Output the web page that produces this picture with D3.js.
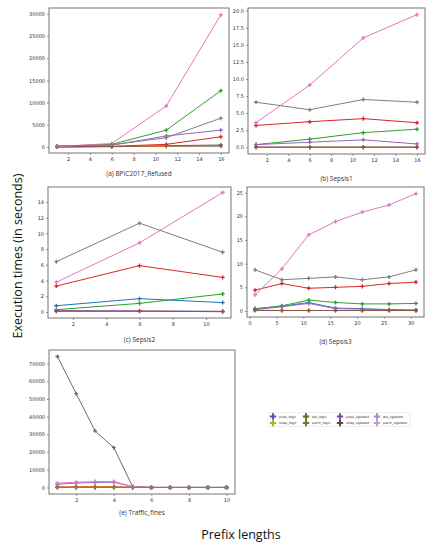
<!DOCTYPE html>
<html><head><meta charset="utf-8">
<script src="https://cdn.jsdelivr.net/npm/d3@7"></script>
<style>
html,body{margin:0;padding:0;background:#fff;}
svg{display:block;}
</style></head>
<body>
<svg id="chart" width="432" height="550"></svg>
<script>
// ---- data ----
const seriesNames = ["pred_logit","shap_logit","ale_logit","perm_logit","pred_xgboost","shap_xgboost","ale_xgboost","perm_xgboost"];

const bpicX = [1, 6, 11, 16];
const bpicValues = [
  [50, 100, 150, 200],
  [30, 80, 150, 300],
  [150, 600, 3800, 12700],
  [40, 150, 600, 2300],
  [200, 400, 2500, 3800],
  [20, 100, 300, 450],
  [100, 800, 9250, 29800],
  [250, 500, 2100, 6500]
];

const sepsis1X = [1, 6, 11, 16];
const sepsis1Values = [
  [0.02, 0.02, 0.02, 0.02],
  [0.02, 0.02, 0.02, 0.02],
  [0.4, 1.2, 2.15, 2.65],
  [3.2, 3.75, 4.2, 3.6],
  [0.4, 0.75, 1.1, 0.5],
  [0.03, 0.03, 0.03, 0.03],
  [3.6, 9.1, 16.0, 19.4],
  [6.6, 5.5, 7.0, 6.6]
];

const sepsis2X = [1, 6, 11];
const sepsis2Values = [
  [0.8, 1.7, 1.2],
  [0.1, 0.1, 0.05],
  [0.3, 1.1, 2.3],
  [3.3, 5.9, 4.4],
  [0.2, 0.15, 0.1],
  [0.1, 0.1, 0.05],
  [3.8, 8.8, 15.2],
  [6.4, 11.3, 7.6]
];

const sepsis3X = [1, 6, 11, 16, 21, 26, 31];
const sepsis3Values = [
  [0.5, 1.0, 1.8, 0.6, 0.5, 0.3, 0.2],
  [0.2, 0.1, 0.1, 0.1, 0.1, 0.1, 0.1],
  [0.4, 1.1, 2.3, 1.8, 1.5, 1.5, 1.6],
  [4.4, 5.8, 4.8, 5.0, 5.2, 5.8, 6.1],
  [0.3, 0.9, 1.6, 0.5, 0.4, 0.2, 0.1],
  [0.1, 0.1, 0.1, 0.1, 0.1, 0.1, 0.1],
  [3.4, 8.9, 16.1, 18.9, 20.9, 22.4, 24.8],
  [8.7, 6.6, 6.9, 7.2, 6.6, 7.2, 8.7]
];

const trafficX = [1, 2, 3, 4, 5, 6, 7, 8, 9, 10];
const trafficValues = [
  [100, 100, 100, 100, 50, 0, 0, 0, 0, 0],
  [300, 400, 500, 500, 100, 0, 0, 0, 0, 0],
  [50, 50, 50, 50, 20, 0, 0, 0, 0, 0],
  [80, 80, 80, 80, 30, 0, 0, 0, 0, 0],
  [1800, 2500, 2800, 3000, 400, 0, 0, 0, 0, 0],
  [74000, 53000, 32000, 22500, 500, 0, 0, 0, 0, 0],
  [2400, 3000, 3300, 3400, 500, 0, 0, 0, 0, 0],
  [0, 0, 0, 0, 0, 0, 0, 0, 0, 0]
];

const captions = ["(a) BPIC2017_Refused", "(b) Sepsis1", "(c) Sepsis2", "(d) Sepsis3", "(e) Traffic_fines"];

const ticksA_x = [2,4,6,8,10,12,14,16];
const ticksA_y = [0,5000,10000,15000,20000,25000,30000];
const ticksB_y = [0,2.5,5,7.5,10,12.5,15,17.5,20];
const ticksC_x = [2,4,6,8,10];
const ticksC_y = [0,2,4,6,8,10,12,14];
const ticksD_x = [0,5,10,15,20,25,30];
const ticksD_y = [0,5,10,15,20,25];
const ticksE_x = [2,4,6,8,10];
const ticksE_y = [0,10000,20000,30000,40000,50000,60000,70000];

// ---- styles ----
const lineColors = ["#1f77b4","#ff7f0e","#2ca02c","#d62728","#9467bd","#8c564b","#e377c2","#7f7f7f"];
const legendColors = ["#5b4fc4","#a8b820","#6b6b20","#77773a","#7050c0","#5a4a30","#a890d0","#c4a2c8"];

const svg = d3.select("#chart");

const panels = [
  {x: bpicX, v: bpicValues, cap: captions[0], box:[49,229,8,153], xd:[0.25,16.75], yd:[-1353,31353], xt: ticksA_x, yt: ticksA_y, fmt: d3.format("d"), capY:176},
  {x: sepsis1X, v: sepsis1Values, cap: captions[1], box:[248,425,8,154], xd:[0.25,16.75], yd:[-0.97,20.37], xt: ticksA_x, yt: ticksB_y, fmt: d3.format(".1f"), capY:181},
  {x: sepsis2X, v: sepsis2Values, cap: captions[2], box:[48,231,187,318], xd:[0.5,11.5], yd:[-0.76,15.9], xt: ticksC_x, yt: ticksC_y, fmt: d3.format("d"), capY:342},
  {x: sepsis3X, v: sepsis3Values, cap: captions[3], box:[247,424,187,317], xd:[-0.5,32.5], yd:[-1.27,26.2], xt: ticksD_x, yt: ticksD_y, fmt: d3.format("d"), capY:344},
  {x: trafficX, v: trafficValues, cap: captions[4], box:[49,235,350,494], xd:[0.55,10.45], yd:[-3700,77700], xt: ticksE_x, yt: ticksE_y, fmt: d3.format("d"), capY:515, override:{5:"#766a52"}}
];

const marker = d3.symbol().type(d3.symbolCross).size(9);

panels.forEach(p => {
  const [x0,x1,y0,y1] = p.box;
  const xs = d3.scaleLinear().domain(p.xd).range([x0,x1]);
  const ys = d3.scaleLinear().domain(p.yd).range([y1,y0]);
  const g = svg.append("g");

  const clipId = "clip" + x0 + "_" + y0;
  svg.append("clipPath").attr("id", clipId).append("rect")
    .attr("x", x0).attr("y", y0).attr("width", x1-x0).attr("height", y1-y0);

  const xAxis = d3.axisBottom(xs).tickValues(p.xt).tickSize(2).tickPadding(2).tickFormat(d3.format("d"));
  const yAxis = d3.axisLeft(ys).tickValues(p.yt).tickSize(2).tickPadding(2).tickFormat(p.fmt);

  const gx = g.append("g").attr("transform", `translate(0,${y1})`).call(xAxis);
  const gy = g.append("g").attr("transform", `translate(${x0},0)`).call(yAxis);
  [gx, gy].forEach(a => {
    a.select(".domain").remove();
    a.selectAll("line").attr("stroke", "#555").attr("stroke-width", 0.6);
    a.selectAll("text").attr("font-family", "DejaVu Sans").attr("font-size", 5).attr("fill", "#333");
  });

  const lines = g.append("g").attr("clip-path", `url(#${clipId})`);
  const lineGen = d3.line().x(d => xs(d[0])).y(d => ys(d[1]));
  p.v.forEach((vals, si) => {
    const col = (p.override && p.override[si]) || lineColors[si];
    const pts = p.x.map((xv, i) => [xv, vals[i]]);
    lines.append("path").datum(pts).attr("d", lineGen)
      .attr("fill", "none").attr("stroke", col).attr("stroke-width", 1);
    lines.selectAll(null).data(pts).enter().append("path")
      .attr("d", marker)
      .attr("transform", d => `translate(${xs(d[0])},${ys(d[1])})`)
      .attr("fill", col);
  });

  g.append("rect").attr("x", x0).attr("y", y0).attr("width", x1-x0).attr("height", y1-y0)
    .attr("fill", "none").attr("stroke", "#666").attr("stroke-width", 0.9);

  g.append("text").attr("x", (x0+x1)/2).attr("y", p.capY).attr("text-anchor", "middle")
    .attr("font-family", "Open Sans").attr("font-size", 6.5).attr("fill", "#333").text(p.cap);
});

// legend
const leg = svg.append("g");
leg.append("rect").attr("x", 268).attr("y", 412.5).attr("width", 142).attr("height", 14)
  .attr("fill", "#fff").attr("stroke", "#ddd").attr("stroke-width", 0.5);
const legCols = [273, 306, 340, 377];
const legRows = [416.5, 423];
const legMarker = d3.symbol().type(d3.symbolCross).size(22);
seriesNames.forEach((name, i) => {
  const c = Math.floor(i / 2), r = i % 2;
  const lx = legCols[c], ly = legRows[r];
  leg.append("line").attr("x1", lx-3).attr("x2", lx+3).attr("y1", ly).attr("y2", ly)
    .attr("stroke", legendColors[i]).attr("stroke-width", 0.8);
  leg.append("path").attr("d", legMarker).attr("transform", `translate(${lx},${ly})`).attr("fill", legendColors[i]);
  leg.append("text").attr("x", lx+6).attr("y", ly+1.2).attr("font-family", "DejaVu Sans")
    .attr("font-size", 3.4).attr("fill", "#333").text(name);
});

// big axis labels
svg.append("text").attr("transform", "translate(22,256) rotate(-90)").attr("text-anchor", "middle")
  .attr("font-family", "Open Sans").attr("font-size", 12.5).attr("fill", "#111").text("Execution times (in seconds)");
svg.append("text").attr("x", 241).attr("y", 539).attr("text-anchor", "middle")
  .attr("font-family", "Open Sans").attr("font-size", 12.5).attr("fill", "#111").text("Prefix lengths");
</script>
</body></html>
